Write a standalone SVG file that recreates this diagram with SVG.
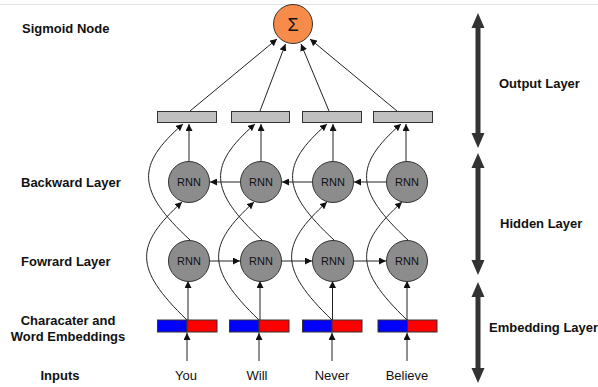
<svg xmlns="http://www.w3.org/2000/svg" width="598" height="387" viewBox="0 0 598 387">
<defs>
<marker id="ah" viewBox="0 0 10 10" refX="10" refY="5" markerWidth="7" markerHeight="7" markerUnits="userSpaceOnUse" orient="auto">
<path d="M0,0 L10,5 L0,10 z" fill="#111"/>
</marker>
<style>
.lbl{font-family:"Liberation Sans",Arial,sans-serif;font-weight:bold;font-size:13px;fill:#111}
.word{font-family:"Liberation Sans",Arial,sans-serif;font-size:13px;fill:#111;text-anchor:middle}
.rnn circle{fill:#8c8c8c;stroke:#333;stroke-width:1}
.rnn text{font-family:"Liberation Sans",Arial,sans-serif;font-size:11px;fill:#111;text-anchor:middle}
.out rect{fill:#c0c0c0;stroke:#333;stroke-width:1}
.emb .b{fill:#0000ff;stroke:#333;stroke-width:1}
.emb .r{fill:#ff0000;stroke:#333;stroke-width:1}
.conn path,.conn line{stroke:#222;stroke-width:1;fill:none;marker-end:url(#ah)}
.big{fill:#333}
</style>
</defs>
<rect width="598" height="387" fill="#fff"/>
<line x1="0" y1="4.5" x2="598" y2="4.5" stroke="#e2e2e2" stroke-width="1"/>

<!-- left labels -->
<text class="lbl" x="22" y="33">Sigmoid Node</text>
<text class="lbl" x="21" y="187">Backward Layer</text>
<text class="lbl" x="21" y="266">Fowrard Layer</text>
<text class="lbl" x="68" y="325" text-anchor="middle">Characater and</text>
<text class="lbl" x="68" y="341" text-anchor="middle">Word Embeddings</text>
<text class="lbl" x="60" y="380" text-anchor="middle">Inputs</text>

<!-- right labels -->
<text class="lbl" x="499" y="88">Output Layer</text>
<text class="lbl" x="500" y="228">Hidden Layer</text>
<text class="lbl" x="489" y="332">Embedding Layer</text>

<!-- big double arrows -->
<g id="layer-arrows">
<path class="big" d="M478,13 L484.5,28 L480.5,28 L480.5,133 L484.5,133 L478,148 L471.5,133 L475.5,133 L475.5,28 L471.5,28 z"/>
<path class="big" d="M478,153 L484.5,168 L480.5,168 L480.5,260 L484.5,260 L478,275 L471.5,260 L475.5,260 L475.5,168 L471.5,168 z"/>
<path class="big" d="M478,282 L484.5,297 L480.5,297 L480.5,368 L484.5,368 L478,383 L471.5,368 L475.5,368 L475.5,297 L471.5,297 z"/>
</g>

<!-- connectors -->
<g id="connectors" class="conn">
<!-- inputs to embeddings -->
<line x1="187" y1="361" x2="187" y2="333"/>
<line x1="259" y1="361" x2="259" y2="333"/>
<line x1="332" y1="361" x2="332" y2="333"/>
<line x1="407" y1="361" x2="407" y2="333"/>
<!-- embeddings to forward -->
<line x1="188" y1="320" x2="188" y2="281"/>
<line x1="260" y1="320" x2="260" y2="281"/>
<line x1="332.5" y1="320" x2="332.5" y2="281"/>
<line x1="407" y1="320" x2="407" y2="281"/>
<!-- embeddings to backward (curves) -->
<path d="M187,320 C133,268 135,245 182,202"/>
<path d="M259,320 C205,268 207,245 254,202"/>
<path d="M332,320 C278,268 280,245 327,202"/>
<path d="M407,320 C353,268 355,245 402,202"/>
<!-- forward to output bars (curves) -->
<path d="M190,240 C136,190 136,165 183,124"/>
<path d="M262,240 C208,190 208,165 255,124"/>
<path d="M334,240 C280,190 280,165 327,124"/>
<path d="M408,240 C354,190 354,165 401,124"/>
<!-- backward to output bars -->
<line x1="189" y1="161" x2="189" y2="124"/>
<line x1="261" y1="161" x2="261" y2="124"/>
<line x1="333" y1="161" x2="333" y2="124"/>
<line x1="406" y1="161" x2="406" y2="124"/>
<!-- backward chain (right to left) -->
<line x1="240.5" y1="182" x2="210" y2="182"/>
<line x1="312.5" y1="182" x2="282" y2="182"/>
<line x1="386.5" y1="182" x2="354" y2="182"/>
<!-- forward chain (left to right) -->
<line x1="209.5" y1="261" x2="240" y2="261"/>
<line x1="281.5" y1="261" x2="312" y2="261"/>
<line x1="353.5" y1="261" x2="386" y2="261"/>
<!-- output bars to sigmoid -->
<line x1="190" y1="111" x2="277" y2="39"/>
<line x1="260" y1="111" x2="285.5" y2="44"/>
<line x1="329" y1="111" x2="301" y2="44"/>
<line x1="397" y1="111" x2="310" y2="39"/>
</g>

<!-- sigmoid node -->
<g id="sigmoid">
<circle cx="293" cy="24" r="19.5" fill="#f68b4a" stroke="#333" stroke-width="1"/>
<text x="293" y="30.5" font-family="'Liberation Sans',Arial,sans-serif" font-size="18" text-anchor="middle" fill="#111">Σ</text>
</g>

<!-- output bars -->
<g id="out1" class="out"><rect x="157.5" y="111.5" width="59" height="11"/></g>
<g id="out2" class="out"><rect x="231.5" y="111.5" width="58" height="11"/></g>
<g id="out3" class="out"><rect x="302.5" y="111.5" width="59" height="11"/></g>
<g id="out4" class="out"><rect x="373.5" y="111.5" width="59" height="11"/></g>

<!-- backward RNNs -->
<g id="bwd1" class="rnn"><circle cx="189" cy="182" r="20.5"/><text x="189" y="186">RNN</text></g>
<g id="bwd2" class="rnn"><circle cx="261" cy="182" r="20.5"/><text x="261" y="186">RNN</text></g>
<g id="bwd3" class="rnn"><circle cx="333" cy="182" r="20.5"/><text x="333" y="186">RNN</text></g>
<g id="bwd4" class="rnn"><circle cx="407" cy="182" r="20.5"/><text x="407" y="186">RNN</text></g>

<!-- forward RNNs -->
<g id="fwd1" class="rnn"><circle cx="189" cy="261" r="20.5"/><text x="189" y="265">RNN</text></g>
<g id="fwd2" class="rnn"><circle cx="261" cy="261" r="20.5"/><text x="261" y="265">RNN</text></g>
<g id="fwd3" class="rnn"><circle cx="333" cy="261" r="20.5"/><text x="333" y="265">RNN</text></g>
<g id="fwd4" class="rnn"><circle cx="407" cy="261" r="20.5"/><text x="407" y="265">RNN</text></g>

<!-- embeddings -->
<g id="emb1" class="emb"><rect class="b" x="157.5" y="320" width="29.5" height="12"/><rect class="r" x="187" y="320" width="30" height="12"/></g>
<g id="emb2" class="emb"><rect class="b" x="229.5" y="320" width="29.5" height="12"/><rect class="r" x="259" y="320" width="30" height="12"/></g>
<g id="emb3" class="emb"><rect class="b" x="302.5" y="320" width="29.5" height="12"/><rect class="r" x="332" y="320" width="30" height="12"/></g>
<g id="emb4" class="emb"><rect class="b" x="378" y="320" width="29.5" height="12"/><rect class="r" x="407.5" y="320" width="29.5" height="12"/></g>

<!-- input words -->
<g id="in1"><text class="word" x="186" y="380">You</text></g>
<g id="in2"><text class="word" x="257" y="380">Will</text></g>
<g id="in3"><text class="word" x="332" y="380">Never</text></g>
<g id="in4"><text class="word" x="407" y="380">Believe</text></g>
</svg>
